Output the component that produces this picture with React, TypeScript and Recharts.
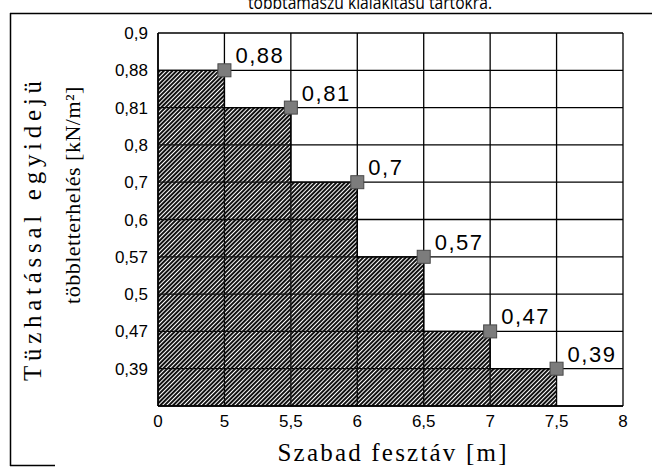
import { Area, AreaChart, CartesianGrid, XAxis, YAxis } from "recharts";

// free span (m) on the x axis, evenly spaced as in the original sheet
const spans = ["0", "5", "5,5", "6", "6,5", "7", "7,5", "8"];
const loadSpans = ["5", "5,5", "6", "6,5", "7", "7,5"];
const loads = [0.88, 0.81, 0.7, 0.57, 0.47, 0.39];
// y axis rows, bottom to top, also evenly spaced
const levels = ["0,39", "0,47", "0,5", "0,57", "0,6", "0,7", "0,8", "0,81", "0,88", "0,9"];

const comma = (v: number) => String(v).replace(".", ",");
const level = (v: number) => levels.indexOf(comma(v)) + 1;

const rows = [
  { x: 0, y: level(loads[0]) },
  ...loads.map((v, i) => ({ x: spans.indexOf(loadSpans[i]), y: level(v) })),
];

const tickStyle = { fontFamily: "Liberation Sans, Arial, sans-serif", fontSize: 17, fill: "#000" };
const serif = "Liberation Serif, Times New Roman, serif";

function Marker(props: any) {
  const { cx, cy, index } = props;
  if (index === 0 || cx == null) return <g key={`m${index}`} />;
  return (
    <rect
      key={`m${index}`}
      x={cx - 6.5}
      y={cy - 6.5}
      width={13}
      height={13}
      fill="#7c7c7c"
      stroke="#4a4a4a"
      strokeWidth={1}
    />
  );
}

function ValueLabel(props: any) {
  const { x, y, index } = props;
  if (!index) return null;
  return (
    <text
      x={x + 11}
      y={y - 7}
      fontFamily="Liberation Sans, Arial, sans-serif"
      fontSize={22}
      letterSpacing={1.5}
      fill="#000"
    >
      {comma(loads[index - 1])}
    </text>
  );
}

export default function App() {
  return (
    <div style={{ position: "absolute", left: 0, top: 0, width: 652, height: 468, background: "#fff" }}>
      <svg width={652} height={468} style={{ position: "absolute", left: 0, top: 0 }}>
        <text
          x={248}
          y={9}
          fontFamily="Open Sans, Arial, sans-serif"
          fontSize={19}
          textLength={244}
          lengthAdjust="spacingAndGlyphs"
          fill="#000"
        >
          többtámaszú kialakítású tartókra.
        </text>
        <line x1={10} y1={13.5} x2={652} y2={13.5} stroke="#000" strokeWidth={1.5} />
        <line x1={10.5} y1={13} x2={10.5} y2={466} stroke="#000" strokeWidth={1.5} />
        <line x1={10} y1={465.5} x2={55} y2={465.5} stroke="#000" strokeWidth={1.5} />
        <text
          transform="translate(41,231) rotate(-90)"
          textAnchor="middle"
          fontFamily={serif}
          fontSize={25}
          textLength={300}
          lengthAdjust="spacing"
          fill="#000"
        >
          Tüzhatással egyidejü
        </text>
        <text
          transform="translate(80,195) rotate(-90)"
          textAnchor="middle"
          fontFamily={serif}
          fontSize={22}
          letterSpacing={0.5}
          fill="#000"
        >
          többletterhelés [kN/m²]
        </text>
        <text
          x={392}
          y={461}
          textAnchor="middle"
          fontFamily={serif}
          fontSize={25}
          textLength={229}
          lengthAdjust="spacing"
          fill="#000"
        >
          Szabad fesztáv [m]
        </text>
      </svg>
      <div style={{ position: "absolute", left: 0, top: 0 }}>
        <AreaChart
          width={652}
          height={468}
          data={rows}
          margin={{ top: 33, right: 29, bottom: 32, left: 0 }}
        >
          <defs>
            <pattern
              id="hatch"
              width={3}
              height={3}
              patternUnits="userSpaceOnUse"
              patternTransform="rotate(45)"
            >
              <rect width={2} height={3} fill="#111" />
            </pattern>
          </defs>
          <CartesianGrid stroke="#000" strokeWidth={1.3} />
          <XAxis
            type="number"
            dataKey="x"
            domain={[0, spans.length - 1]}
            ticks={spans.map((_, i) => i)}
            tickFormatter={(i) => spans[i]}
            interval={0}
            height={30}
            tickLine={false}
            tickSize={7}
            tickMargin={2}
            axisLine={{ stroke: "#000", strokeWidth: 1.5 }}
            tick={tickStyle}
          />
          <YAxis
            type="number"
            domain={[0, levels.length]}
            ticks={[0, ...levels.map((_, i) => i + 1)]}
            tickFormatter={(i) => (i ? levels[i - 1] : "")}
            interval={0}
            width={158}
            tickLine={false}
            tickSize={8}
            tickMargin={2}
            axisLine={{ stroke: "#000", strokeWidth: 1.5 }}
            tick={tickStyle}
          />
          <Area
            type="stepBefore"
            dataKey="y"
            stroke="#000"
            strokeWidth={1.3}
            fill="url(#hatch)"
            fillOpacity={1}
            dot={Marker}
            activeDot={false}
            label={ValueLabel}
            isAnimationActive={false}
          />
        </AreaChart>
      </div>
    </div>
  );
}
